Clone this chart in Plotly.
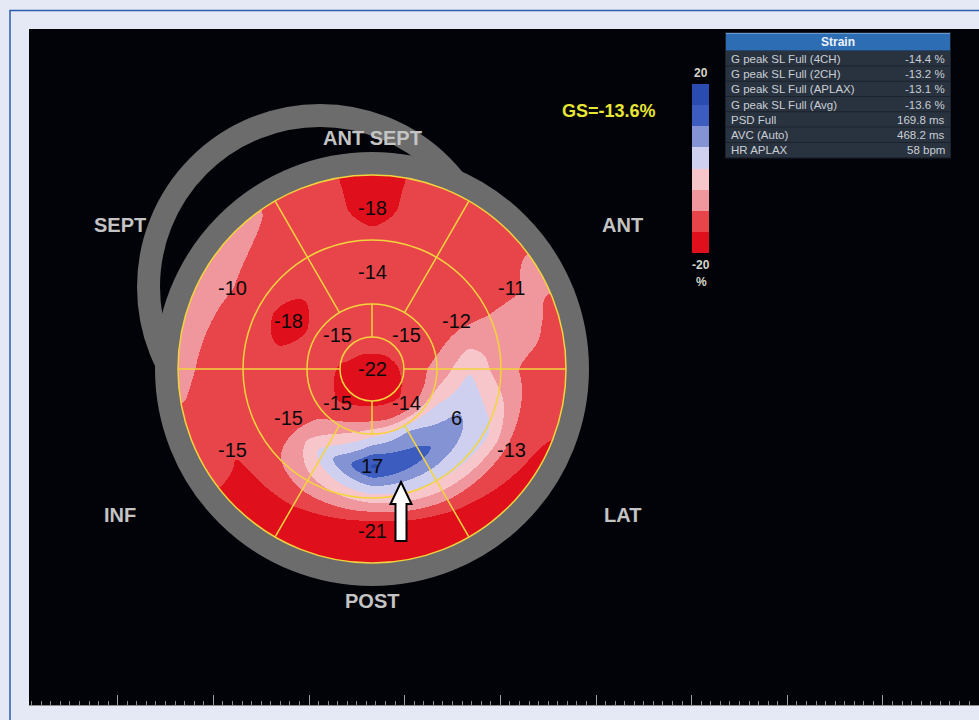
import numpy as np
import plotly.graph_objects as go

# ---------------- data: 17-segment peak longitudinal strain (%) ----------------
segment_angles = [90, 30, -30, -90, -150, 150]          # basal / mid segment centres (deg)
basal_strain = [-18, -11, -13, -21, -15, -10]
mid_strain = [-14, -12, 6, 17, -15, -18]
apical_angles = [45, 135, 225, 315]                     # apical segment centres (deg)
apical_strain = [-15, -15, -15, -14]
apex_strain = -22
global_strain = -13.6

# strain map samples between segment centres (%)
outer_rim_angles = [0, 15, 30, 45, 60, 75, 90, 105, 120, 150, 180, 210, 240, 270, 300, 330]
outer_rim_strain = [-12.5, -12.5, -8, -12.5, -11.5, -14, -17, -14, -11, -5, -8, -14, -18, -20, -18, -16]
basal_extra_angles = [0, 18, 60, 75, 105, 120, 180, 240, 300]
basal_extra_strain = [-12, -7, -12.5, -13, -13, -12.5, -12.5, -16, -15]
mid_basal_angles = [0, 10, 30, 60, 90, 120, 150, 180, 210, 240, 270, 300, 330]
mid_basal_strain = [-8, -7, -11, -12.5, -13, -12.5, -12.5, -13.5, -13, -7, -2.5, 0, 2]
mid_extra_angles = [0, 60, 120, 180, 240, 300]
mid_extra_strain = [0, -12.5, -12.5, -12.5, 3, 12]
apical_mid_angles = list(range(0, 360, 30))
apical_mid_strain = [-7, -12.5, -13, -13.5, -13.5, -14.5, -13.5, -13, -6, 3, 6, 0]
apical_extra_angles = [0, 90, 180, 270]
apical_extra_strain = [-11, -12.5, -14, -12]
apex_rim_angles = [0, 90, 180, 270]
apex_rim_strain = [-15.5, -11, -16, -18]

wall_labels = ["ANT SEPT", "ANT", "LAT", "POST", "INF", "SEPT"]

table_title = "Strain"
table_rows = ["G peak SL Full (4CH)", "G peak SL Full (2CH)", "G peak SL Full (APLAX)",
              "G peak SL Full (Avg)", "PSD Full", "AVC (Auto)", "HR APLAX"]
table_values = ["-14.4 %", "-13.2 %", "-13.1 %", "-13.6 %", "169.8 ms", "468.2 ms", "58 bpm"]

colorbar_min, colorbar_max = -20, 20
band_colors = ["#e00f1c", "#e8454b", "#f0969d", "#f7c6cb",
               "#cfd0ef", "#8493d3", "#3d5cbf", "#2a4bb0"]

# ---------------- geometry (pixel units) ----------------
W, H = 979, 720
PX0, PY0, PY1 = 29, 29, 705          # black panel
CX, CY = 372, 369                    # bullseye centre
R_OUT, R_BM, R_MA, R_APEX = 194, 129, 65, 32
SMOOTH_PX = 3
GRAY = "#6c6c6c"
YELLOW = "#f2d53c"


def ring_profile(theta, angles, values):
    """Periodic linear profile of one ring around the bullseye."""
    a = np.mod(np.asarray(angles, float), 360)
    v = np.asarray(values, float)
    o = np.argsort(a)
    a, v = a[o], v[o]
    a = np.concatenate([a[-1:] - 360, a, a[:1] + 360])
    v = np.concatenate([v[-1:], v, v[:1]])
    return np.interp(np.mod(theta, 360), a, v)


def gaussian_smooth(a, sigma):
    k = np.arange(-3 * sigma, 3 * sigma + 1)
    w = np.exp(-0.5 * (k / sigma) ** 2)
    w /= w.sum()
    p = len(k) // 2
    a = np.pad(a, p, mode="edge")
    a = np.apply_along_axis(lambda m: np.convolve(m, w, mode="valid"), 0, a)
    a = np.apply_along_axis(lambda m: np.convolve(m, w, mode="valid"), 1, a)
    return a


# rings of the map: (radius, angles, values)
rings = [
    (0.0, [0], [apex_strain]),
    (24.0, apex_rim_angles, apex_rim_strain),
    ((R_APEX + R_MA) / 2, apical_angles + apical_extra_angles, apical_strain + apical_extra_strain),
    (72.0, apical_mid_angles, apical_mid_strain),
    ((R_MA + R_BM) / 2, segment_angles + mid_extra_angles, mid_strain + mid_extra_strain),
    (R_BM, mid_basal_angles, mid_basal_strain),
    ((R_BM + R_OUT) / 2, segment_angles + basal_extra_angles, basal_strain + basal_extra_strain),
    (190.0, outer_rim_angles, outer_rim_strain),
]

pad = 20
xs = np.arange(CX - R_OUT - pad, CX + R_OUT + pad + 1, 1.0)
ys = np.arange(CY - R_OUT - pad, CY + R_OUT + pad + 1, 1.0)
X, Y = np.meshgrid(xs, ys)
r = np.hypot(X - CX, Y - CY)
th = np.degrees(np.arctan2(CY - Y, X - CX))

radii = np.array([rg[0] for rg in rings])
V = np.stack([ring_profile(th, rg[1], rg[2]) for rg in rings])
k = np.clip(np.searchsorted(radii, r, side="right") - 1, 0, len(radii) - 2)
t = np.clip((r - radii[k]) / (radii[k + 1] - radii[k]), 0, 1)
v0 = np.take_along_axis(V, k[None], 0)[0]
v1 = np.take_along_axis(V, (k + 1)[None], 0)[0]
z = v0 + (v1 - v0) * t
z = gaussian_smooth(z, SMOOTH_PX)
z = np.clip(z, colorbar_min, colorbar_max)
z[r > R_OUT + 1.5] = np.nan
z = z.astype(np.float32)

# stepped colour scale: one flat band per 5 % of strain
n = len(band_colors)
colorscale = []
for i, c in enumerate(band_colors):
    lo = 0 if i == 0 else i / n - 0.0005
    hi = 1 if i == n - 1 else (i + 1) / n - 0.0005
    colorscale += [[lo, c], [hi, c]]

fig = go.Figure()
fig.add_trace(go.Heatmap(
    x=xs, y=ys, z=z, zmin=colorbar_min, zmax=colorbar_max,
    colorscale=colorscale, zsmooth=False, hoverinfo="skip",
    colorbar=dict(
        x=(692 - PX0) / (W - PX0), xanchor="left",
        y=(PY1 - 168.5) / (PY1 - PY0), yanchor="middle",
        len=169, lenmode="pixels", thickness=17, thicknessmode="pixels",
        xpad=0, ypad=0, outlinewidth=0, ticks="", showticklabels=False,
    ),
))

shapes = []


def circle(cx, cy, rad, **kw):
    return dict(type="circle", xref="x", yref="y",
                x0=cx - rad, x1=cx + rad, y0=cy - rad, y1=cy + rad, **kw)


# grey rings (offset ring sits behind the map)
shapes.append(circle(320, 287, 171.5, line=dict(color=GRAY, width=23), layer="below"))
shapes.append(circle(CX, CY, 205.5, line=dict(color=GRAY, width=23), layer="above"))

# segment grid
for rad in (R_OUT, R_BM, R_MA, R_APEX):
    shapes.append(circle(CX, CY, rad, line=dict(color=YELLOW, width=1.5), layer="above"))
for ang in (0, 60, 120, 180, 240, 300):
    a = np.radians(ang)
    shapes.append(dict(type="line", xref="x", yref="y",
                       x0=CX + R_MA * np.cos(a), y0=CY - R_MA * np.sin(a),
                       x1=CX + R_OUT * np.cos(a), y1=CY - R_OUT * np.sin(a),
                       line=dict(color=YELLOW, width=1.5), layer="above"))
for ang in (0, 90, 180, 270):
    a = np.radians(ang)
    shapes.append(dict(type="line", xref="x", yref="y",
                       x0=CX + R_APEX * np.cos(a), y0=CY - R_APEX * np.sin(a),
                       x1=CX + R_MA * np.cos(a), y1=CY - R_MA * np.sin(a),
                       line=dict(color=YELLOW, width=1.5), layer="above"))

# white block arrow pointing at the inferior wall
ax, tip, neck, base, hw, sw = 401, 482, 504, 541, 10.5, 5.5
shapes.append(dict(
    type="path", xref="x", yref="y", layer="above",
    path=(f"M {ax} {tip} L {ax + hw} {neck} L {ax + sw} {neck} L {ax + sw} {base} "
          f"L {ax - sw} {base} L {ax - sw} {neck} L {ax - hw} {neck} Z"),
    fillcolor="white", line=dict(color="black", width=2),
))

# strain table
TX0, TX1, HY0, HY1, ROW_H = 726, 950, 33, 50.5, 15.3
shapes.append(dict(type="rect", xref="x", yref="y", x0=TX0 - 1, x1=TX1 + 1, y0=HY0 - 1,
                   y1=HY1 + ROW_H * len(table_rows) + 1, fillcolor="#1b222c",
                   line=dict(width=0), layer="above"))
shapes.append(dict(type="rect", xref="x", yref="y", x0=TX0, x1=TX1, y0=HY0, y1=HY1,
                   fillcolor="#2d6db3", line=dict(width=0), layer="above"))
shapes.append(dict(type="line", xref="x", yref="y", x0=TX0, x1=TX1, y0=HY0 + 0.5, y1=HY0 + 0.5,
                   line=dict(color="#6a9ad2", width=1), layer="above"))
for i in range(len(table_rows)):
    y0 = HY1 + i * ROW_H + 0.6
    shapes.append(dict(type="rect", xref="x", yref="y", x0=TX0, x1=TX1, y0=y0,
                       y1=y0 + ROW_H - 1.0, fillcolor="#29333f", line=dict(width=0),
                       layer="above"))

# outer frame line of the page
shapes.append(dict(type="rect", xref="paper", yref="paper",
                   x0=(10 - PX0) / (W - PX0), x1=1.05,
                   y0=-0.1, y1=(PY1 - 10.5) / (PY1 - PY0),
                   line=dict(color="#2a5db0", width=1.5), fillcolor="rgba(0,0,0,0)",
                   layer="below"))

annotations = []
FONT = "Liberation Sans, Arial, sans-serif"


def label(x, y, text, size, color, bold=False, **kw):
    t = f"<b>{text}</b>" if bold else text
    d = dict(x=x, y=y, xref="x", yref="y", text=t, showarrow=False,
             font=dict(family=FONT, size=size, color=color))
    d.update(kw)
    annotations.append(d)


# segment values
VAL_COLOR = "#0a0a0a"
VAL_SIZE = 20
for ang, v in zip(segment_angles, basal_strain):
    a = np.radians(ang)
    label(CX + (R_BM + R_OUT) / 2 * np.cos(a), CY - (R_BM + R_OUT) / 2 * np.sin(a), str(v), VAL_SIZE, VAL_COLOR)
for ang, v in zip(segment_angles, mid_strain):
    a = np.radians(ang)
    label(CX + (R_MA + R_BM) / 2 * np.cos(a), CY - (R_MA + R_BM) / 2 * np.sin(a), str(v), VAL_SIZE, VAL_COLOR)
for ang, v in zip(apical_angles, apical_strain):
    a = np.radians(ang)
    label(CX + (R_APEX + R_MA) / 2 * np.cos(a), CY - (R_APEX + R_MA) / 2 * np.sin(a), str(v), VAL_SIZE, VAL_COLOR)
label(CX, CY, str(apex_strain), VAL_SIZE, VAL_COLOR)

# wall names around the bullseye
wall_offsets = [(0, -231), (250, -144), (250, 146), (0, 232), (-252, 146), (-252, -144)]
for name, (dx, dy) in zip(wall_labels, wall_offsets):
    label(CX + dx, CY + dy, name, 20, "#c4c4c4", bold=True)

label(609, 110.5, f"GS={global_strain}%", 18, "#e6e633", bold=True)

# colour bar captions
label(701, 73, str(colorbar_max), 12, "#d6d6cc", bold=True)
label(701, 265, str(colorbar_min), 12, "#d6d6cc", bold=True)
label(701, 282, "%", 12, "#d6d6cc", bold=True)

# table text
label((TX0 + TX1) / 2, (HY0 + HY1) / 2, table_title, 12, "#eef3fb", bold=True)
for i, (name, val) in enumerate(zip(table_rows, table_values)):
    yc = HY1 + i * ROW_H + ROW_H / 2 + 0.5
    label(TX0 + 3, yc, name, 11.5, "#c9ced6", xanchor="left")
    label(TX1 - 3, yc, val, 11.5, "#c9ced6", xanchor="right")

fig.update_layout(
    width=W, height=H,
    margin=dict(l=PX0, r=0, t=PY0, b=H - PY1, pad=0),
    paper_bgcolor="#e5e8f5", plot_bgcolor="#020308",
    shapes=shapes, annotations=annotations, showlegend=False,
    xaxis=dict(range=[PX0, W], showgrid=False, zeroline=False, showticklabels=False,
               showline=True, linecolor="#8c8c8c", linewidth=1,
               ticks="inside", tick0=117.7, dtick=95.66, ticklen=10, tickwidth=1,
               tickcolor="#a0a0a0",
               minor=dict(ticks="inside", tick0=117.7, dtick=9.566, ticklen=4,
                          tickwidth=1, tickcolor="#8c8c8c", showgrid=False),
               fixedrange=True),
    yaxis=dict(range=[PY1, PY0], showgrid=False, zeroline=False, showticklabels=False,
               showline=False, ticks="", fixedrange=True),
)

fig.write_html("out.html")
